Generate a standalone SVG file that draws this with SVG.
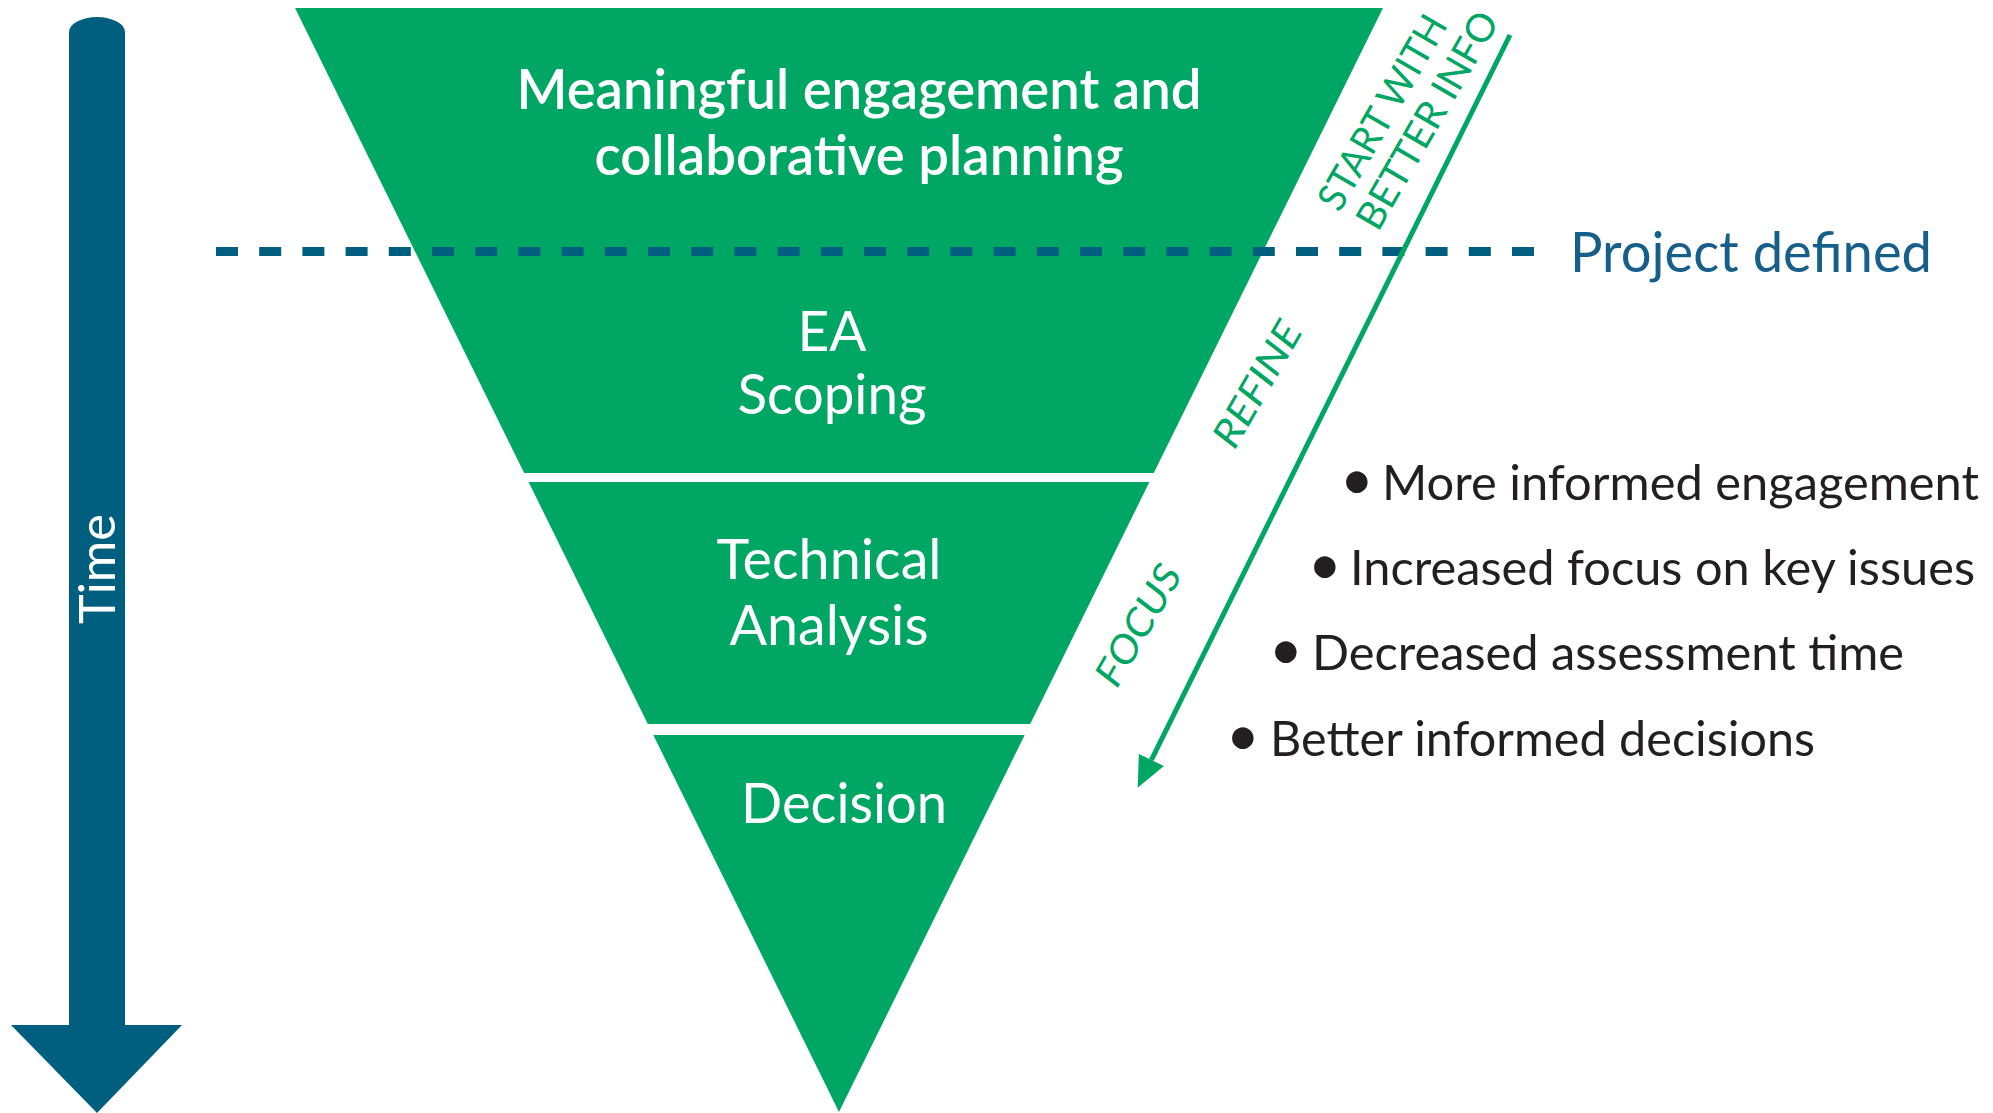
<svg xmlns="http://www.w3.org/2000/svg" width="1993" height="1113" viewBox="0 0 1993 1113">
  <style>
    .band { fill: #00A664; }
    .wt { fill: #FFFFFF; font-family: Lato, "Open Sans", "Liberation Sans", sans-serif; text-anchor: middle; }
    .gt { fill: #00A664; font-family: Lato, "Open Sans", "Liberation Sans", sans-serif; font-size: 39px; text-anchor: middle; }
    .bt { fill: #231F20; font-family: Lato, "Open Sans", "Liberation Sans", sans-serif; font-size: 49px; }
    .dot { font-size: 58px; }
  </style>
  <defs>
    <marker id="ghead" markerUnits="userSpaceOnUse" markerWidth="32" markerHeight="32" viewBox="0 -16 32 32" refX="0" refY="0" orient="auto">
      <path d="M0,-14 L31,0 L0,14 Z" fill="#00A664"/>
    </marker>
  </defs>

  <g id="time-arrow">
    <path d="M69,1025 L69,32 A28,15 0 0 1 125,32 L125,1025 L182,1025 L97,1113 L11,1025 Z" fill="#005F7F"/>
    <text transform="translate(115,569) rotate(-90)" x="0" y="0" class="wt" font-size="50" textLength="110" lengthAdjust="spacingAndGlyphs">Time</text>
  </g>

  <g id="engagement">
    <polygon class="band" points="295,8 1383,8 1263.2,251 414.8,251"/>
    <text class="wt" x="859" y="109" font-size="56" font-weight="600" textLength="685" lengthAdjust="spacingAndGlyphs">Meaningful engagement and</text>
    <text class="wt" x="859" y="175" font-size="56" font-weight="600" textLength="529" lengthAdjust="spacingAndGlyphs">collaborative planning</text>
  </g>

  <g id="ea-scoping">
    <polygon class="band" points="414.3,250 1263.7,250 1153.8,473 524.2,473"/>
    <text class="wt" x="832" y="351" font-size="57" textLength="69" lengthAdjust="spacingAndGlyphs">EA</text>
    <text class="wt" x="832" y="414" font-size="57" textLength="189" lengthAdjust="spacingAndGlyphs">Scoping</text>
  </g>

  <g id="technical-analysis">
    <polygon class="band" points="528.6,482 1149.4,482 1030.2,724 647.8,724"/>
    <text class="wt" x="829" y="579" font-size="57" textLength="225" lengthAdjust="spacingAndGlyphs">Technical</text>
    <text class="wt" x="829" y="645" font-size="57" textLength="199" lengthAdjust="spacingAndGlyphs">Analysis</text>
  </g>

  <g id="decision">
    <polygon class="band" points="653.3,735 1024.7,735 839,1112"/>
    <text class="wt" x="844" y="823" font-size="57" textLength="206" lengthAdjust="spacingAndGlyphs">Decision</text>
  </g>

  <g id="project-defined">
    <line x1="216" y1="251.5" x2="1534" y2="251.5" stroke="#005F7F" stroke-width="9" stroke-dasharray="22 21.2"/>
    <text x="1570" y="272" font-family="Lato, 'Open Sans', 'Liberation Sans', sans-serif" font-size="57" fill="#165F8B" textLength="362" lengthAdjust="spacingAndGlyphs">Project defined</text>
  </g>

  <g id="connectors">
    <line x1="1510" y1="35" x2="1151.4" y2="759.9" stroke="#00A664" stroke-width="5" marker-end="url(#ghead)"/>
  </g>

  <g id="labels">
    <text class="gt" transform="translate(1394,119) rotate(-60)" textLength="218" lengthAdjust="spacingAndGlyphs">START WITH</text>
    <text class="gt" transform="translate(1439,127) rotate(-60)" textLength="244" lengthAdjust="spacingAndGlyphs">BETTER INFO</text>
    <text class="gt" transform="translate(1269,391) rotate(-60)" font-style="italic" textLength="138" lengthAdjust="spacingAndGlyphs">REFINE</text>
    <text class="gt" transform="translate(1150,632) rotate(-60)" font-style="italic" textLength="133" lengthAdjust="spacingAndGlyphs">FOCUS</text>
  </g>

  <g id="benefits">
    <text class="bt" y="500"><tspan class="dot" x="1340">•</tspan><tspan x="1382" textLength="597" lengthAdjust="spacingAndGlyphs">More informed engagement</tspan></text>
    <text class="bt" y="585"><tspan class="dot" x="1308">•</tspan><tspan x="1350" textLength="625" lengthAdjust="spacingAndGlyphs">Increased focus on key issues</tspan></text>
    <text class="bt" y="670"><tspan class="dot" x="1269">•</tspan><tspan x="1312" textLength="592" lengthAdjust="spacingAndGlyphs">Decreased assessment time</tspan></text>
    <text class="bt" y="756"><tspan class="dot" x="1226">•</tspan><tspan x="1270" textLength="545" lengthAdjust="spacingAndGlyphs">Better informed decisions</tspan></text>
  </g>
</svg>
